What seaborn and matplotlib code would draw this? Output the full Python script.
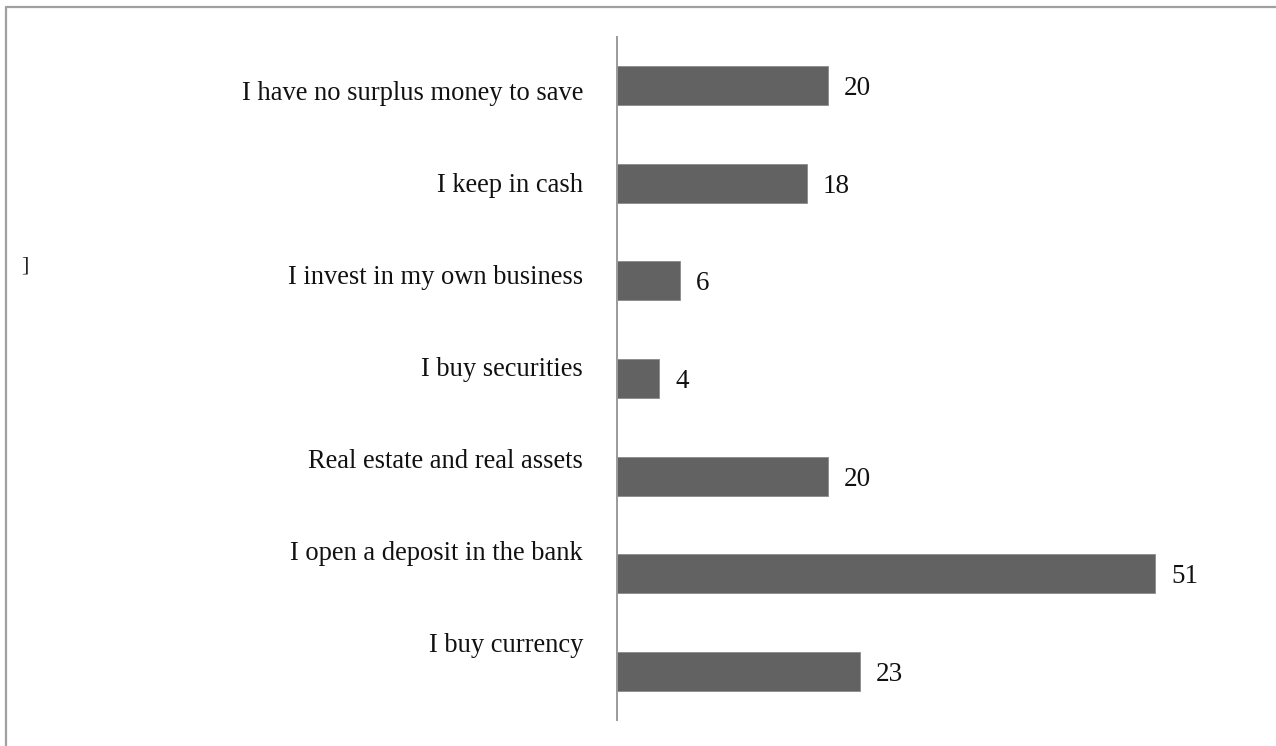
import matplotlib
matplotlib.use("Agg")
import matplotlib.pyplot as plt
from matplotlib.lines import Line2D
import seaborn as sns
import pandas as pd

# Survey answers: where respondents put their savings (share, %)
categories = [
    "I have no surplus money to save",
    "I keep in cash",
    "I invest in my own business",
    "I buy securities",
    "Real estate and real assets",
    "I open a deposit in the bank",
    "I buy currency",
]
values = [20, 18, 6, 4, 20, 51, 23]

sns.set_theme(style="white")
plt.rcParams["font.family"] = ["Liberation Serif", "DejaVu Serif"]

df = pd.DataFrame({"answer": categories, "share": values})

W, H = 1276, 746
fig = plt.figure(figsize=(W / 100, H / 100), dpi=100)
fig.patch.set_facecolor("white")

def box(left, top, right, bottom):
    return [left / W, 1 - bottom / H, (right - left) / W, (bottom - top) / H]

# main bar axes
ax = fig.add_axes(box(617, 37, 1250, 720))
sns.barplot(data=df, x="share", y="answer", orient="h", color="#626262",
            saturation=1, width=0.4, ax=ax, edgecolor="#8a8a8a", linewidth=0.6)
ax.set_xlim(0, 60)
ax.set_ylim(6.5, -0.5)
ax.set_xlabel("")
ax.set_ylabel("")
ax.set_xticks([])
ax.set_yticks([])
for side in ("top", "right", "bottom"):
    ax.spines[side].set_visible(False)
ax.spines["left"].set_color("#9a9a9a")
ax.spines["left"].set_linewidth(1.4)
ax.patch.set_alpha(0)

for cont in ax.containers:
    texts = ax.bar_label(cont, labels=[str(v) for v in values], padding=11.5,
                         fontsize=19.5, color="#111111")
    for t in texts:
        t.set_verticalalignment("center_baseline")

# category labels sit on their own evenly spaced scale to the left
lab = fig.add_axes(box(583, 44, 600, 688))
lab.set_ylim(len(categories) - 0.5, -0.5)
lab.set_yticks(range(len(categories)))
lab.set_yticklabels(categories, fontsize=19.1, color="#111111")
lab.tick_params(axis="y", length=0, pad=0)
lab.set_xticks([])
for s in lab.spines.values():
    s.set_visible(False)
lab.patch.set_alpha(0)

# outer frame (top and left edges)
frame_kw = dict(color="#a0a0a0", linewidth=1.6, transform=fig.transFigure)
fig.add_artist(Line2D([5.5 / W, 1], [1 - 7 / H, 1 - 7 / H], **frame_kw))
fig.add_artist(Line2D([5.5 / W, 5.5 / W], [0, 1 - 7 / H], **frame_kw))

fig.text(25 / W, 1 - 266 / H, "]", fontsize=16, color="#222222",
         ha="center", va="center")

fig.savefig("out.png", dpi=100, facecolor="white")
